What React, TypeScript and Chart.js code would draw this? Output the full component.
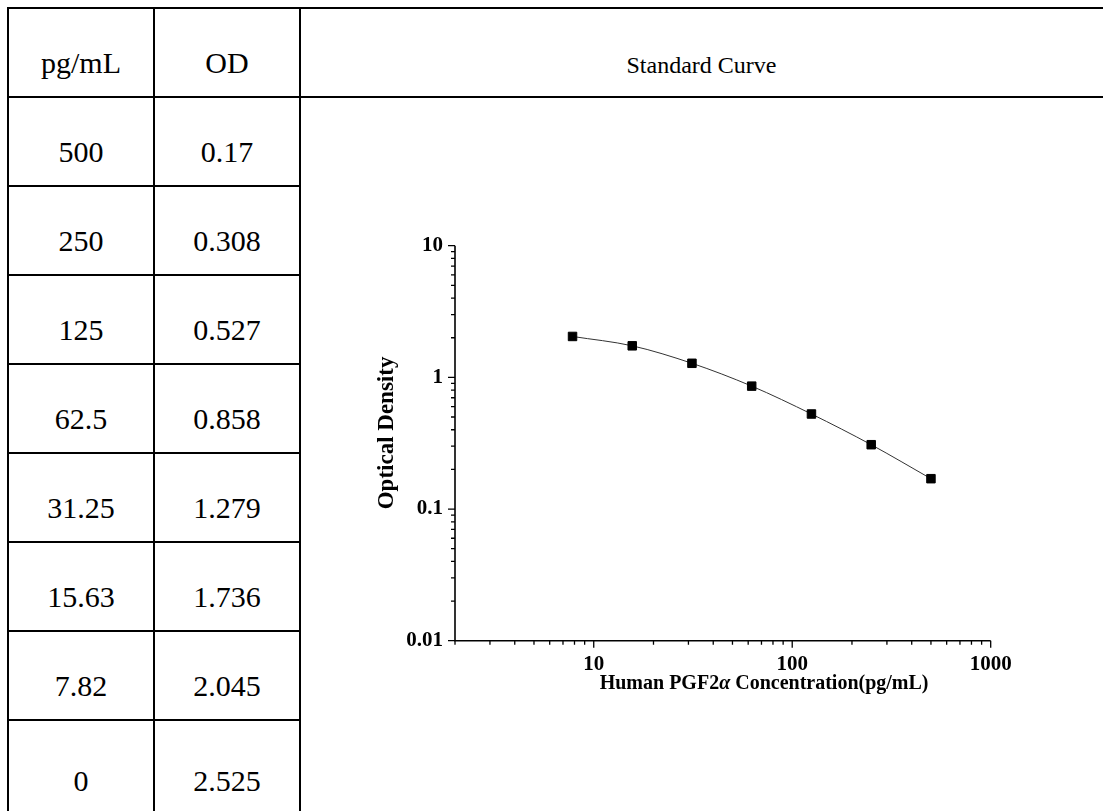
import React, { useEffect, useRef } from "react";
import { Chart, registerables } from "chart.js";

Chart.register(...registerables);

// ---- data ----
const concLabels = ["500", "250", "125", "62.5", "31.25", "15.63", "7.82", "0"];
const concentrations = [500, 250, 125, 62.5, 31.25, 15.63, 7.82, 0];
const odLabels = ["0.17", "0.308", "0.527", "0.858", "1.279", "1.736", "2.045", "2.525"];
const odValues = [0.17, 0.308, 0.527, 0.858, 1.279, 1.736, 2.045, 2.525];
const tableHeaders = ["pg/mL", "OD"];
const chartHeader = "Standard Curve";
const xMajorTicks = [10, 100, 1000];
const yMajorTicks = [0.01, 0.1, 1, 10];
const xTitleParts: [string, boolean][] = [
  ["Human PGF2", false],
  ["α", true],
  [" Concentration(pg/mL)", false],
];
const yTitle = "Optical Density";

const FAMILY = "'Liberation Serif', 'Times New Roman', serif";

function minorTicks(min: number, max: number): number[] {
  const out: number[] = [];
  for (let d = Math.pow(10, Math.floor(Math.log10(min))); d < max; d *= 10) {
    for (let k = 2; k <= 9; k++) {
      const v = +(k * d).toPrecision(6);
      if (v >= min && v <= max) out.push(v);
    }
  }
  return out;
}

const axesPlugin = {
  id: "axesPlugin",
  afterDraw(chart: any) {
    const { ctx, chartArea: a, scales } = chart;
    const xs = scales.x;
    const ys = scales.y;
    ctx.save();
    ctx.strokeStyle = "#000";
    ctx.lineWidth = 1.6;
    ctx.beginPath();
    ctx.moveTo(a.left, a.top);
    ctx.lineTo(a.left, a.bottom);
    ctx.lineTo(a.right, a.bottom);
    ctx.stroke();

    ctx.lineWidth = 1.3;
    ctx.beginPath();
    xMajorTicks.forEach((v) => {
      const p = xs.getPixelForValue(v);
      ctx.moveTo(p, a.bottom);
      ctx.lineTo(p, a.bottom + 7);
    });
    minorTicks(xs.min, xs.max).forEach((v) => {
      const p = xs.getPixelForValue(v);
      ctx.moveTo(p, a.bottom);
      ctx.lineTo(p, a.bottom + 4);
    });
    yMajorTicks.forEach((v) => {
      const p = ys.getPixelForValue(v);
      ctx.moveTo(a.left, p);
      ctx.lineTo(a.left - 7, p);
    });
    minorTicks(ys.min, ys.max).forEach((v) => {
      const p = ys.getPixelForValue(v);
      ctx.moveTo(a.left, p);
      ctx.lineTo(a.left - 4, p);
    });
    ctx.stroke();

    // x title
    ctx.fillStyle = "#000";
    ctx.textBaseline = "alphabetic";
    ctx.textAlign = "left";
    const fonts = xTitleParts.map(([, it]) => (it ? "italic bold 20px " : "bold 20px ") + FAMILY);
    let total = 0;
    const widths = xTitleParts.map(([t], i) => {
      ctx.font = fonts[i];
      const w = ctx.measureText(t).width;
      total += w;
      return w;
    });
    let x = a.left + 0.577 * (a.right - a.left) - total / 2;
    const yb = a.bottom + 48;
    xTitleParts.forEach(([t], i) => {
      ctx.font = fonts[i];
      ctx.fillText(t, x, yb);
      x += widths[i];
    });

    // y title
    ctx.translate(a.left - 68, a.top + 0.474 * (a.bottom - a.top));
    ctx.rotate(-Math.PI / 2);
    ctx.font = "bold 23px " + FAMILY;
    ctx.textAlign = "center";
    ctx.textBaseline = "middle";
    ctx.fillText(yTitle, 0, 0);
    ctx.restore();
  },
};

const LINE = 1.6;
const left0 = 8;
const col1 = 154;
const col2 = 300;
const top0 = 8;
const headerBottom = 97;
const rowH = 89;

export default function App() {
  const canvasRef = useRef<HTMLCanvasElement>(null);

  useEffect(() => {
    const pts = concentrations
      .map((c, i) => ({ x: c, y: odValues[i] }))
      .filter((p) => p.x > 0);
    const tickFont = { family: FAMILY, size: 21, weight: "bold" as const };
    const chart = new Chart(canvasRef.current as HTMLCanvasElement, {
      type: "line",
      data: {
        datasets: [
          {
            data: pts,
            borderColor: "#333",
            borderWidth: 1,
            pointStyle: "rect",
            pointRadius: 6,
            pointBackgroundColor: "#000",
            pointBorderColor: "#000",
            pointBorderWidth: 1,
            cubicInterpolationMode: "monotone",
            fill: false,
          } as any,
        ],
      },
      options: {
        animation: false,
        responsive: false,
        maintainAspectRatio: false,
        events: [],
        layout: { padding: { left: 75, top: 147.7, right: 112.3, bottom: 130.3 } },
        plugins: {
          legend: { display: false },
          tooltip: { enabled: false },
          title: { display: false },
        },
        scales: {
          x: {
            type: "logarithmic",
            min: 2,
            max: 1000,
            position: "bottom",
            afterBuildTicks: (s: any) => {
              s.ticks = xMajorTicks.map((v) => ({ value: v }));
            },
            afterFit: (s: any) => {
              s.height = 40;
            },
            grid: { display: false, drawTicks: false },
            border: { display: false },
            ticks: {
              padding: 11,
              color: "#000",
              font: tickFont,
              maxRotation: 0,
              autoSkip: false,
              callback: (v: any) => String(v),
            },
          },
          y: {
            type: "logarithmic",
            min: 0.01,
            max: 10,
            afterBuildTicks: (s: any) => {
              s.ticks = yMajorTicks.map((v) => ({ value: v }));
            },
            afterFit: (s: any) => {
              s.width = 80;
            },
            grid: { display: false, drawTicks: false },
            border: { display: false },
            ticks: {
              padding: 12,
              color: "#000",
              font: tickFont,
              autoSkip: false,
              callback: (v: any) => String(v),
            },
          },
        } as any,
      },
      plugins: [axesPlugin],
    });
    return () => chart.destroy();
  }, []);

  const hLine = (y: number, x1: number, x2: number, key: string) => (
    <div
      key={key}
      style={{ position: "absolute", left: x1, top: y - LINE / 2, width: x2 - x1, height: LINE, background: "#000" }}
    />
  );
  const vLine = (x: number, y1: number, y2: number, key: string) => (
    <div
      key={key}
      style={{ position: "absolute", left: x - LINE / 2, top: y1, width: LINE, height: y2 - y1, background: "#000" }}
    />
  );
  const cellText = (text: string, cx: number, textTop: number, key: string) => (
    <div
      key={key}
      style={{
        position: "absolute",
        left: cx - 70,
        width: 140,
        top: textTop,
        height: 30,
        lineHeight: "30px",
        fontSize: 30,
        textAlign: "center",
        fontFamily: FAMILY,
        color: "#000",
        whiteSpace: "nowrap",
      }}
    >
      {text}
    </div>
  );

  const c0 = (left0 + col1) / 2;
  const c1 = (col1 + col2) / 2;
  const lines: React.ReactNode[] = [];
  lines.push(hLine(top0, left0 - LINE / 2, 1103, "t"));
  lines.push(hLine(headerBottom, left0 - LINE / 2, 1103, "hb"));
  for (let i = 1; i <= concLabels.length - 1; i++) {
    lines.push(hLine(headerBottom + rowH * i, left0 - LINE / 2, col2, "r" + i));
  }
  lines.push(vLine(left0, top0, 811, "v0"));
  lines.push(vLine(col1, top0, 811, "v1"));
  lines.push(vLine(col2, top0, 811, "v2"));

  const textTop = (i: number) => headerBottom + rowH * i + (i === concLabels.length - 1 ? 46 : 40);
  const texts: React.ReactNode[] = [];
  texts.push(cellText(tableHeaders[0], c0, top0 + 40, "h0"));
  texts.push(cellText(tableHeaders[1], c1, top0 + 40, "h1"));
  concLabels.forEach((t, i) => texts.push(cellText(t, c0, textTop(i), "c" + i)));
  odLabels.forEach((t, i) => texts.push(cellText(t, c1, textTop(i), "o" + i)));

  return (
    <div
      style={{
        position: "fixed",
        left: 0,
        top: 0,
        width: 1103,
        height: 811,
        overflow: "hidden",
        background: "#fff",
      }}
    >
      {lines}
      {texts}
      <div
        style={{
          position: "absolute",
          left: col2,
          width: 1103 - col2,
          top: 52,
          height: 26,
          lineHeight: "26px",
          fontSize: 24,
          textAlign: "center",
          fontFamily: FAMILY,
          color: "#000",
        }}
      >
        {chartHeader}
      </div>
      <canvas
        ref={canvasRef}
        width={803}
        height={713}
        style={{ position: "absolute", left: 300, top: 98, width: 803, height: 713 }}
      />
    </div>
  );
}
